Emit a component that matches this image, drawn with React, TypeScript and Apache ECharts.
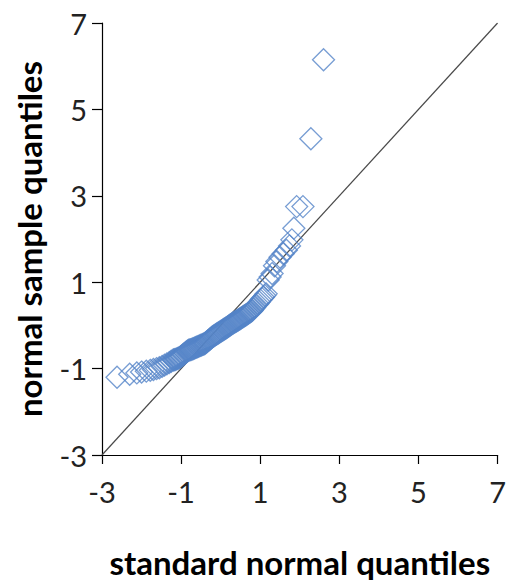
import React, { useEffect, useRef } from "react";
import * as echarts from "echarts";

const xQuantiles = [
  -2.62, -2.3, -2.12, -2.0, -1.88, -1.78, -1.7, -1.62, -1.55, -1.48, -1.42, -1.36, -1.3, -1.25,
  -1.2, -1.175, -1.15, -1.125, -1.1, -1.075, -1.05, -1.025, -1.0, -0.975, -0.95, -0.925, -0.9, -0.875, -0.85, -0.825, -0.8,
  -0.775, -0.75, -0.725, -0.7, -0.675, -0.65, -0.625, -0.6, -0.575, -0.55, -0.525, -0.5, -0.475, -0.45, -0.425, -0.4,
  -0.375, -0.35, -0.325, -0.3, -0.275, -0.25, -0.225, -0.2, -0.175, -0.15, -0.125, -0.1, -0.075, -0.05, -0.025, 0,
  0.025, 0.05, 0.075, 0.1, 0.125, 0.15, 0.175, 0.2, 0.225, 0.25, 0.275, 0.3, 0.325, 0.35, 0.375, 0.4,
  0.425, 0.45, 0.475, 0.5, 0.525, 0.55, 0.575, 0.6, 0.625, 0.65, 0.675, 0.7, 0.725, 0.75, 0.775, 0.8,
  0.835, 0.87, 0.905, 0.94, 0.975, 1.01, 1.045, 1.08, 1.115, 1.15,
  1.2, 1.25, 1.3, 1.36, 1.42, 1.5, 1.58, 1.66, 1.74, 1.8, 1.85, 1.92, 2.08, 2.28, 2.6,
];
const ySample = [
  -1.2, -1.13, -1.1, -1.08, -1.06, -1.04, -1.02, -1.0, -0.98, -0.95, -0.92, -0.89, -0.86, -0.83,
  -0.8, -0.795, -0.79, -0.78, -0.77, -0.76, -0.75, -0.735, -0.72, -0.7, -0.68, -0.66, -0.64, -0.62, -0.6, -0.585, -0.57,
  -0.565, -0.56, -0.55, -0.54, -0.53, -0.52, -0.51, -0.5, -0.49, -0.48, -0.47, -0.46, -0.45, -0.44, -0.43, -0.42,
  -0.4, -0.38, -0.36, -0.34, -0.32, -0.3, -0.28, -0.26, -0.245, -0.23, -0.215, -0.2, -0.185, -0.17, -0.155, -0.14,
  -0.125, -0.11, -0.095, -0.08, -0.065, -0.05, -0.035, -0.02, 0.0, 0.015, 0.03, 0.05, 0.06, 0.075, 0.09, 0.1,
  0.115, 0.13, 0.145, 0.16, 0.175, 0.19, 0.205, 0.22, 0.235, 0.25, 0.265, 0.28, 0.3, 0.315, 0.33, 0.35,
  0.39, 0.43, 0.47, 0.5, 0.54, 0.58, 0.62, 0.65, 0.69, 0.73,
  1.05, 1.12, 1.2, 1.38, 1.48, 1.58, 1.66, 1.74, 1.84, 1.98, 2.25, 2.75, 2.75, 4.32, 6.15,
];
const refLine = [
  [-3, -3],
  [7, 7],
];
const axisMin = -3;
const axisMax = 7;
const axisStep = 2;
const xTitle = "standard normal quantiles";
const yTitle = "normal sample quantiles";

export default function App() {
  const ref = useRef<HTMLDivElement>(null);
  useEffect(() => {
    if (!ref.current) return;
    const chart = echarts.init(ref.current, null, { renderer: "svg" });
    const points = xQuantiles.map((x, i) => [x, ySample[i]]);
    const labelStyle = {
      color: "#222",
      fontFamily: "Lato",
      fontSize: 29,
    };
    const titleStyle = { fontFamily: "Lato", fontWeight: "bold", fontSize: 33, color: "#000" };
    chart.setOption({
      animation: false,
      backgroundColor: "#fff",
      grid: { left: 102, right: 7, top: 23, bottom: 125 },
      xAxis: {
        type: "value",
        min: axisMin,
        max: axisMax,
        interval: axisStep,
        name: xTitle,
        nameLocation: "middle",
        nameGap: 90,
        nameTextStyle: titleStyle,
        axisLine: { show: true, onZero: false, lineStyle: { color: "#000", width: 1.2 } },
        axisTick: { show: true, length: 9, lineStyle: { color: "#000", width: 1.2 } },
        axisLabel: { ...labelStyle, margin: 22 },
        splitLine: { show: false },
      },
      yAxis: {
        type: "value",
        min: axisMin,
        max: axisMax,
        interval: axisStep,
        name: yTitle,
        nameLocation: "middle",
        nameGap: 57,
        nameTextStyle: titleStyle,
        axisLine: { show: true, onZero: false, lineStyle: { color: "#000", width: 1.2 } },
        axisTick: { show: true, length: 10, lineStyle: { color: "#000", width: 1.2 } },
        axisLabel: { ...labelStyle, margin: 15 },
        splitLine: { show: false },
      },
      series: [
        {
          type: "line",
          data: refLine,
          showSymbol: false,
          lineStyle: { color: "#4a4a4a", width: 1.2 },
          z: 1,
        },
        {
          type: "scatter",
          data: points,
          symbol: "diamond",
          symbolSize: 22,
          itemStyle: { color: "rgba(255,255,255,0)", borderColor: "#5585c8", borderWidth: 1.3 },
          z: 2,
        },
      ],
    });
    return () => chart.dispose();
  }, []);
  return <div ref={ref} style={{ width: 509, height: 583, position: "absolute", left: 0, top: 0 }} />;
}
